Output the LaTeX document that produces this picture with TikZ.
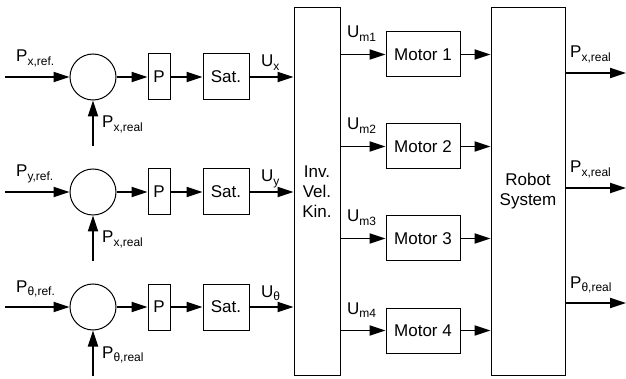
\documentclass[tikz,border=0pt]{standalone}
\usepackage{fontspec}
\setmainfont{Liberation Sans}
\usetikzlibrary{arrows.meta}
\newcommand{\lowsub}[1]{\raisebox{-0.4ex}{\fontsize{12}{13}\selectfont #1}}

\begin{document}
\begin{tikzpicture}[x=1pt, y=-1pt, font=\fontsize{17}{20}\selectfont,
    block/.style={draw, line width=1pt, inner sep=0pt},
    sumnode/.style={draw, circle, line width=1pt, minimum size=46pt, inner sep=0pt},
    arr/.style={line width=1.8pt, -{Triangle[length=16pt, width=10pt]}}]
  \useasboundingbox (0,0) rectangle (626,379);

  % big blocks
  \node[block, minimum width=46pt, minimum height=367pt, align=center] (inv) at (317,191.5) {Inv.\\Vel.\\Kin.};
  \node[block, minimum width=74pt, minimum height=367pt, align=center] (rob) at (528,191.5) {Robot\\System};

  % controller rows
  \foreach \i/\r/\f [evaluate=\i as \y using 77+(\i-1)*115] in {1/x/x, 2/y/x, 3/θ/θ} {
    \node[sumnode] (s\i) at (93,\y) {};
    \node[block, minimum width=22pt, minimum height=46pt] (p\i) at (159,\y) {P};
    \node[block, minimum width=46pt, minimum height=46pt] (sat\i) at (226,\y) {Sat.};
    \coordinate (in\i) at (5,\y);
    \coordinate (fb\i) at (93,\y+69);
    \draw[arr] (in\i) -- (s\i.west);
    \draw[arr] (fb\i) -- (s\i.south);
    \draw[arr] (s\i.east) -- (p\i.west);
    \draw[arr] (p\i.east) -- (sat\i.west);
    \draw[arr] (sat\i.east) -- (sat\i.east -| inv.west);
    \node[anchor=base west, inner sep=0pt] (lref\i) at (16,\y-15) {P\lowsub{\r,ref.}};
    \node[anchor=base west, inner sep=0pt] (lfb\i) at (102,\y+51) {P\lowsub{\f,real}};
    \node[anchor=base west, inner sep=0pt] (lu\i) at (261,\y-10) {U\lowsub{\r}};
  }

  % motors
  \foreach \j [evaluate=\j as \y using 54.5+(\j-1)*92] in {1,...,4} {
    \node[block, minimum width=74pt, minimum height=45pt] (mot\j) at (423,\y) {Motor \j};
    \draw[arr] (inv.east |- mot\j.west) -- (mot\j.west);
    \draw[arr] (mot\j.east) -- (mot\j.east -| rob.west);
    \node[anchor=base west, inner sep=0pt] (lum\j) at (347,\y-16.5) {U\lowsub{m\j}};
  }

  % outputs
  \foreach \k/\o [evaluate=\k as \y using 73+(\k-1)*115] in {1/x, 2/x, 3/θ} {
    \coordinate (out\k) at (626,\y);
    \draw[arr] (rob.east |- out\k) -- (out\k);
    \node[anchor=base west, inner sep=0pt] (lout\k) at (570,\y-15) {P\lowsub{\o,real}};
  }
\end{tikzpicture}
\end{document}
